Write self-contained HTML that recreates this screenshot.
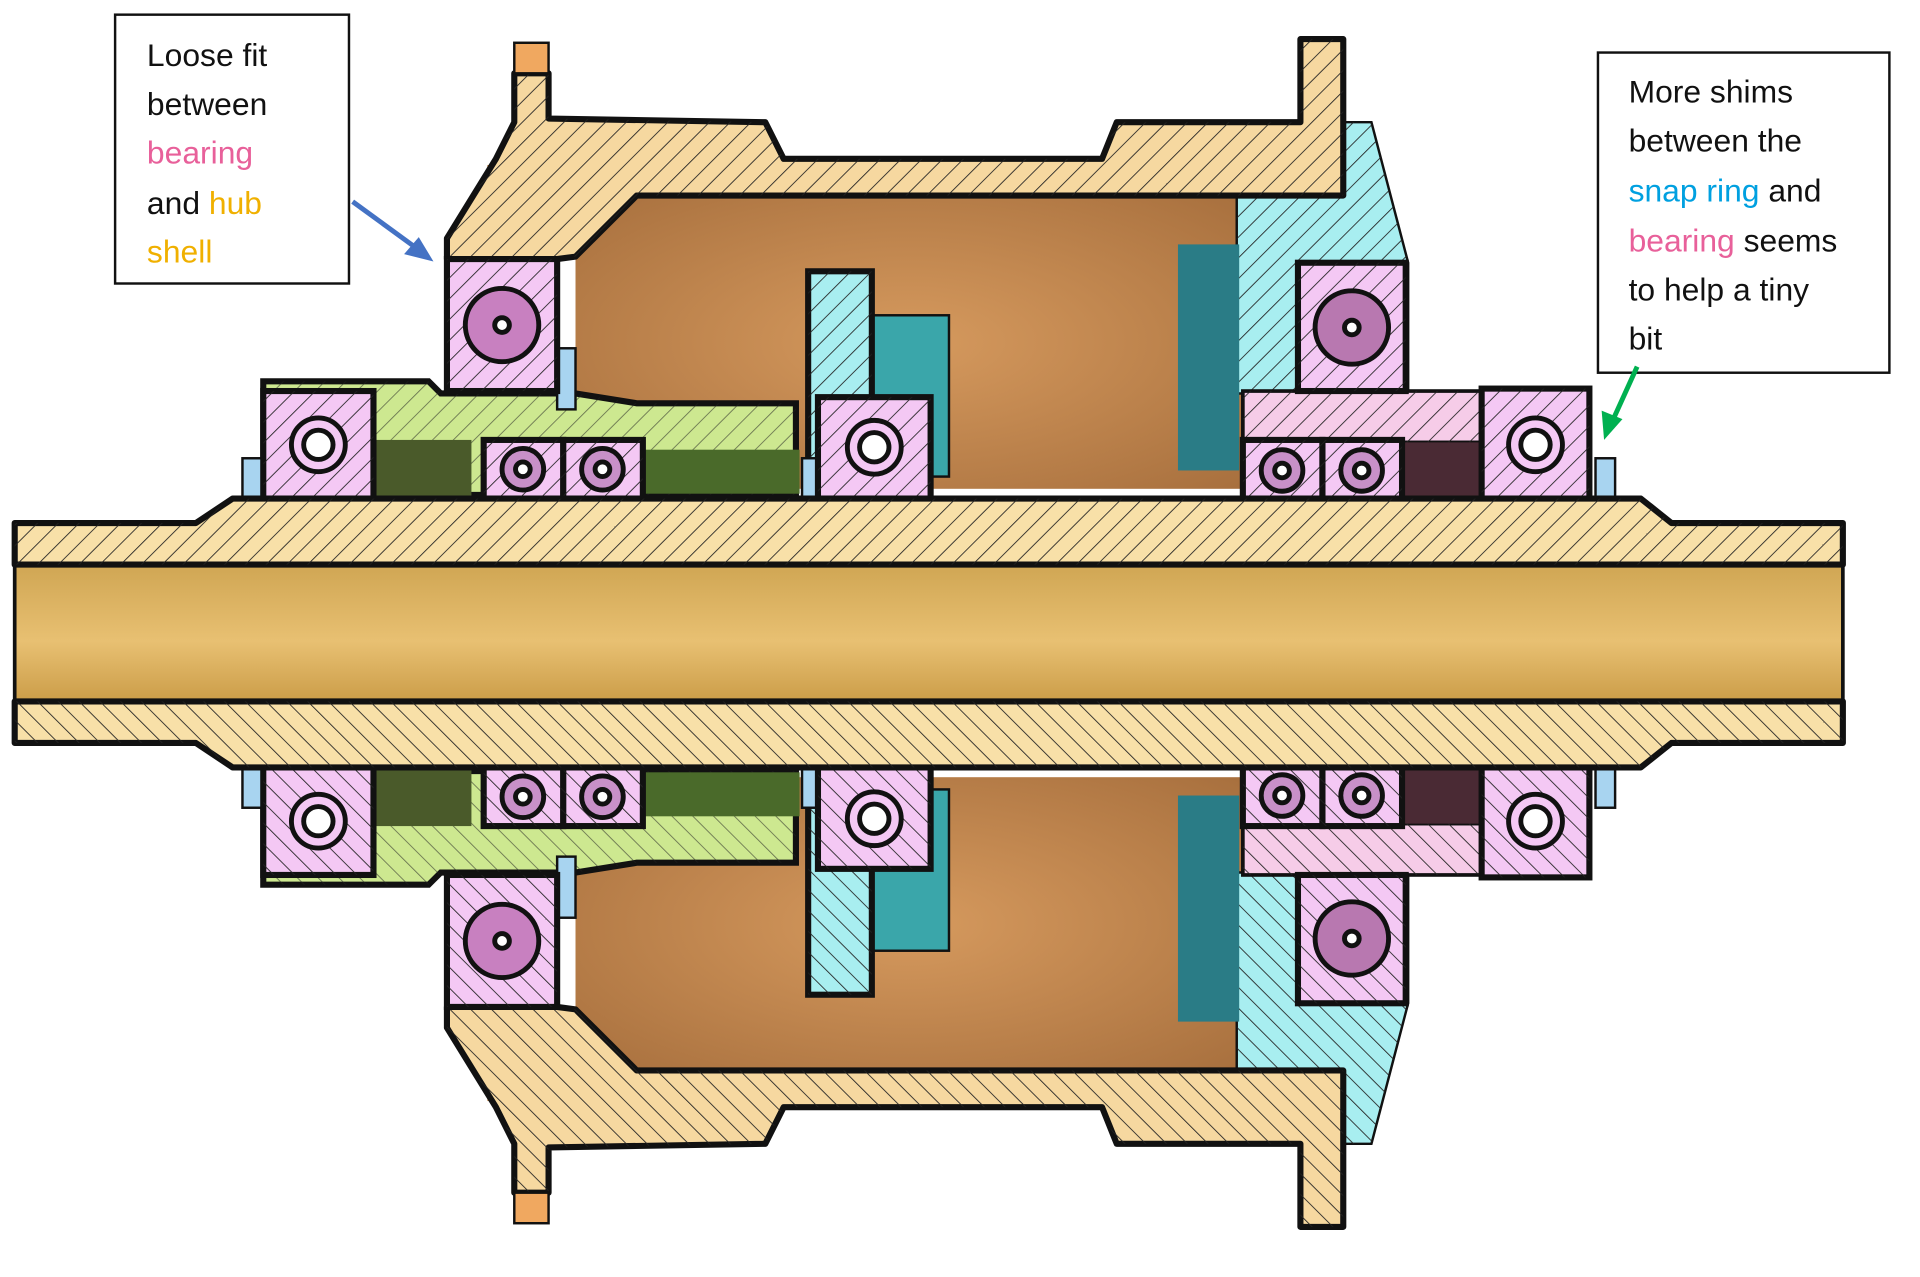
<!DOCTYPE html>
<html><head><meta charset="utf-8"><style>
html,body{margin:0;padding:0;background:#fff;}
svg{display:block}
text{font-family:"Liberation Sans",sans-serif;font-size:26px;fill:#111}
</style></head><body>
<svg width="1920" height="1277" viewBox="0 0 1568 1045" preserveAspectRatio="none" xmlns="http://www.w3.org/2000/svg">
<defs>
<pattern id="h" width="12" height="12" patternUnits="userSpaceOnUse" patternTransform="rotate(45)">
<line x1="0" y1="0" x2="0" y2="12" stroke="#222" stroke-width="1.4"/></pattern>
<linearGradient id="gold" x1="0" y1="0" x2="0" y2="1">
<stop offset="0" stop-color="#cfa552"/><stop offset="0.55" stop-color="#e8c072"/><stop offset="1" stop-color="#c99a45"/></linearGradient>
<radialGradient id="brown" cx="0.5" cy="0.5" r="0.7">
<stop offset="0" stop-color="#d69a5e"/><stop offset="1" stop-color="#a8703e"/></radialGradient>
<g id="half">
  <rect x="470" y="160" width="545" height="240" fill="url(#brown)"/>
  <rect x="398" y="135" width="40" height="55" fill="#c88a48"/>
  <polygon points="1010,100 1120,100 1150,215 1150,322 1010,322" fill="#a8eef0" stroke="#111" stroke-width="2"/>
  <polygon points="1010,100 1120,100 1150,215 1150,322 1010,322" fill="url(#h)"/>
  <rect x="962" y="200" width="50" height="185" fill="#2a7c86"/>
  <polygon points="420,60 448,60 448,97 625,100 640,130 900,130 912,100 1062,100 1062,32 1097,32 1097,160 520,160 470,210 455,212 365,212 365,195 405,130 420,100" fill="#f6d8a0" stroke="#111" stroke-width="5" stroke-linejoin="round"/>
  <polygon points="420,60 448,60 448,97 625,100 640,130 900,130 912,100 1062,100 1062,32 1097,32 1097,160 520,160 470,210 455,212 365,212 365,195 405,130 420,100" fill="url(#h)"/>
  <rect x="420" y="35" width="28" height="25" fill="#f0a860" stroke="#111" stroke-width="2"/>
  <rect x="712" y="258" width="63" height="132" fill="#3aa6aa" stroke="#111" stroke-width="2"/>
  <rect x="660" y="222" width="52" height="180" fill="#a8eef0" stroke="#111" stroke-width="5"/>
  <rect x="660" y="222" width="52" height="180" fill="url(#h)"/>
  <polygon points="215,312 350,312 360,322 470,322 520,330 650,330 650,405 215,405" fill="#cde890" stroke="#111" stroke-width="5"/>
  <polygon points="215,312 350,312 360,322 470,322 520,330 650,330 650,405 215,405" fill="url(#h)" opacity="0.6"/>
  <rect x="305" y="360" width="80" height="48" fill="#4a5a2a"/>
  <rect x="525" y="368" width="128" height="36" fill="#4a6a2a"/>
  <rect x="1015" y="320" width="200" height="42" fill="#f6cce8" stroke="#111" stroke-width="3"/>
  <rect x="1015" y="320" width="200" height="42" fill="url(#h)"/>
  <rect x="1145" y="362" width="65" height="46" fill="#4a2a34"/>
  <rect x="198" y="375" width="16" height="38" fill="#a8d4f0" stroke="#111" stroke-width="2"/>
  <rect x="455" y="285" width="15" height="50" fill="#a8d4f0" stroke="#111" stroke-width="2"/>
  <rect x="655" y="375" width="15" height="40" fill="#a8d4f0" stroke="#111" stroke-width="2"/>
  <rect x="1303" y="375" width="16" height="38" fill="#a8d4f0" stroke="#111" stroke-width="2"/>
  <g stroke="#111" stroke-width="5">
   <rect x="365" y="212" width="90" height="108" fill="#f4c8f4"/>
   <rect x="215" y="320" width="90" height="88" fill="#f4c8f4"/>
   <rect x="395" y="360" width="65" height="48" fill="#f4c8f4"/>
   <rect x="460" y="360" width="65" height="48" fill="#f4c8f4"/>
   <rect x="668" y="325" width="92" height="85" fill="#f4c8f4"/>
   <rect x="1060" y="215" width="88" height="105" fill="#f4c8f4"/>
   <rect x="1015" y="360" width="65" height="50" fill="#f4c8f4"/>
   <rect x="1080" y="360" width="65" height="50" fill="#f4c8f4"/>
   <rect x="1210" y="318" width="88" height="90" fill="#f4c8f4"/>
  </g>
  <g fill="url(#h)">
   <rect x="365" y="212" width="90" height="108"/><rect x="215" y="320" width="90" height="88"/>
   <rect x="395" y="360" width="65" height="48"/><rect x="460" y="360" width="65" height="48"/>
   <rect x="668" y="325" width="92" height="85"/><rect x="1060" y="215" width="88" height="105"/>
   <rect x="1015" y="360" width="65" height="50"/><rect x="1080" y="360" width="65" height="50"/>
   <rect x="1210" y="318" width="88" height="90"/>
  </g>
  <g stroke="#111" stroke-width="4">
   <circle cx="410" cy="266" r="30" fill="#c880c0"/><circle cx="410" cy="266" r="6" fill="#fff"/>
   <circle cx="260" cy="364" r="22" fill="#f4c8f4"/><circle cx="260" cy="364" r="12" fill="#fff"/>
   <circle cx="427" cy="384" r="17" fill="#c890c8"/><circle cx="427" cy="384" r="6" fill="#fff"/>
   <circle cx="492" cy="384" r="17" fill="#c890c8"/><circle cx="492" cy="384" r="6" fill="#fff"/>
   <circle cx="714" cy="366" r="22" fill="#f4c8f4"/><circle cx="714" cy="366" r="12" fill="#fff"/>
   <circle cx="1104" cy="268" r="30" fill="#b878b0"/><circle cx="1104" cy="268" r="6" fill="#fff"/>
   <circle cx="1047" cy="385" r="17" fill="#c890c8"/><circle cx="1047" cy="385" r="6" fill="#fff"/>
   <circle cx="1112" cy="385" r="17" fill="#c890c8"/><circle cx="1112" cy="385" r="6" fill="#fff"/>
   <circle cx="1254" cy="364" r="22" fill="#f4c8f4"/><circle cx="1254" cy="364" r="12" fill="#fff"/>
  </g>
  <polygon points="12,428 160,428 190,408 1340,408 1365,428 1505,428 1505,462 12,462" fill="#f8e0a8" stroke="#111" stroke-width="5" stroke-linejoin="round"/>
  <polygon points="12,428 160,428 190,408 1340,408 1365,428 1505,428 1505,462 12,462" fill="url(#h)"/>
</g>
</defs>
<rect width="1568" height="1045" fill="#fff"/>
<rect x="12" y="460" width="1493" height="118" fill="url(#gold)" stroke="#111" stroke-width="3"/>
<use href="#half"/>
<use href="#half" transform="translate(0,1036) scale(1,-1)"/>
<rect x="94" y="12" width="191" height="220" fill="#fff" stroke="#111" stroke-width="2"/>
<text x="120" y="54">Loose fit</text>
<text x="120" y="94">between</text>
<text x="120" y="134" style="fill:#e8609a">bearing</text>
<text x="120" y="175">and <tspan style="fill:#f0b000">hub</tspan></text>
<text x="120" y="215" style="fill:#f0b000">shell</text>
<rect x="1305" y="43" width="238" height="262" fill="#fff" stroke="#111" stroke-width="2"/>
<text x="1330" y="84">More shims</text>
<text x="1330" y="124">between the</text>
<text x="1330" y="165"><tspan style="fill:#00a0e0">snap ring</tspan> and</text>
<text x="1330" y="206"><tspan style="fill:#e8609a">bearing</tspan> seems</text>
<text x="1330" y="246">to help a tiny</text>
<text x="1330" y="286">bit</text>
<line x1="288" y1="165" x2="340" y2="203" stroke="#4472c4" stroke-width="4"/>
<polygon points="354,214 330,208 342,194" fill="#4472c4"/>
<line x1="1337" y1="300" x2="1318" y2="342" stroke="#00b050" stroke-width="4"/>
<polygon points="1310,360 1308,336 1325,343" fill="#00b050"/>
</svg>
</body></html>
